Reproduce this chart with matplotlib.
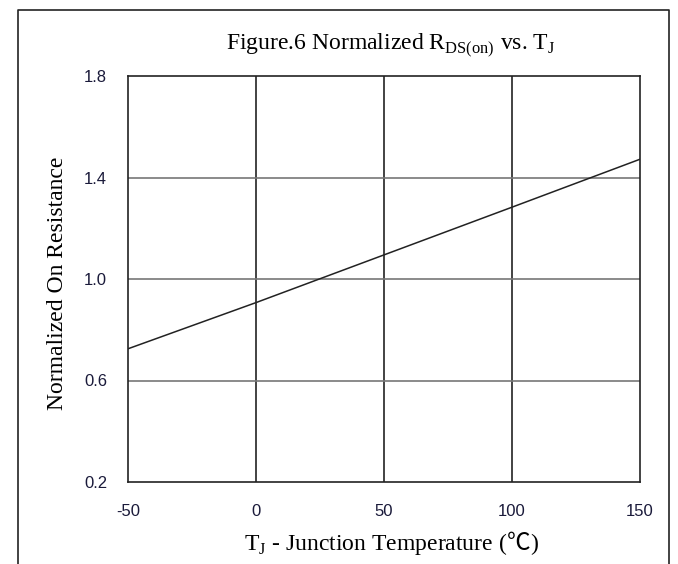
import matplotlib
matplotlib.use("Agg")
import matplotlib.pyplot as plt
from matplotlib.lines import Line2D

temps = [-50, 0, 50, 100, 150]
norm_res = [0.725, 0.907, 1.095, 1.283, 1.472]
x_ticks = [-50, 0, 50, 100, 150]
y_ticks = [0.2, 0.6, 1.0, 1.4, 1.8]

W, H = 678, 564
fig = plt.figure(figsize=(W/100, H/100), dpi=100)
ax = fig.add_axes([128/W, 1-482/H, (640-128)/W, (482-76)/H])

ax.plot(temps, norm_res, color="#222222", lw=1.1)
ax.set_xlim(-50, 150)
ax.set_ylim(0.2, 1.8)
ax.set_xticks(x_ticks)
ax.set_yticks(y_ticks)
ax.set_xticklabels([str(t) for t in x_ticks])
ax.set_yticklabels([f"{v:.1f}" for v in y_ticks])
for v in [0, 50, 100]:
    ax.axvline(v, color="#222222", lw=1.2, zorder=1)
for v in [0.6, 1.0, 1.4]:
    ax.axhline(v, color="#777777", lw=1.2, zorder=1)
for s in ax.spines.values():
    s.set_color("#222222")
    s.set_linewidth(1.2)
ax.tick_params(length=0, labelsize=12, colors="#1a1a3a")
ax.tick_params(axis="x", pad=16)
ax.tick_params(axis="y", pad=15)
for lab in ax.get_xticklabels() + ax.get_yticklabels():
    lab.set_family("Liberation Sans")

serif = "Liberation Serif"
FS = 17
fig.text(391/W, 1-45/H, r"Figure.6 Normalized R$_{\mathregular{DS(on)}}$ vs. T$_{\mathregular{J}}$",
         ha="center", va="center", fontsize=FS, family=serif)
fig.text(58/W, 1-283/H, "Normalized On Resistance", rotation=90,
         ha="center", va="center", fontsize=FS, family=serif)

# x label in three parts so the ℃ sign gets a font that has it
parts = [
    (r"T$_{\mathregular{J}}$ - Junction Temperature (", serif),
    ("℃", "Noto Sans CJK SC"),
    (")", serif),
]
renderer = fig.canvas.get_renderer()
texts = []
for s, fam in parts:
    t = fig.text(0, 1 - 550/H, s, ha="left", va="baseline", fontsize=FS, family=fam)
    texts.append(t)
widths = [t.get_window_extent(renderer).width for t in texts]
total = sum(widths)
x = 391 - total/2
for t, w in zip(texts, widths):
    t.set_x(x/W)
    x += w

# outer frame
fig.add_artist(Line2D([18/W, 18/W, 669/W, 669/W], [0, 1-10/H, 1-10/H, 0],
                      transform=fig.transFigure, color="#222222", lw=1.2))

fig.savefig("out.png", dpi=100)
